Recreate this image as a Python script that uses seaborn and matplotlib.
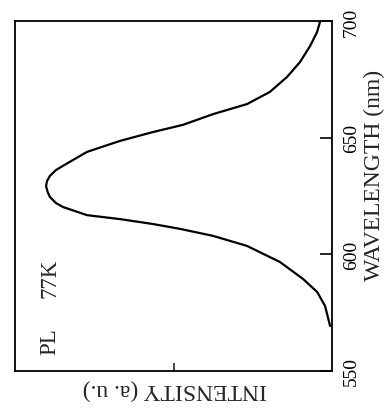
import matplotlib
matplotlib.use("Agg")
import matplotlib.pyplot as plt
import numpy as np
import pandas as pd
import seaborn as sns

# Photoluminescence spectrum at 77 K
wavelength = [569.3, 577.9, 583.9, 589.4, 596.7, 603.6, 607.9, 610.9, 613.0, 615.1,
              616.8, 620.3, 622.0, 624.6, 626.7, 629.3, 631.4, 633.6, 636.1, 637.9,
              643.9, 648.6, 652.4, 655.5, 660.1, 664.4, 669.6, 676.0, 682.4, 689.3,
              695.3, 699.6]
intensity = [0.006, 0.022, 0.047, 0.091, 0.164, 0.268, 0.375, 0.479, 0.565, 0.669,
             0.773, 0.849, 0.871, 0.890, 0.897, 0.902, 0.899, 0.890, 0.871, 0.849,
             0.773, 0.669, 0.565, 0.470, 0.375, 0.268, 0.196, 0.142, 0.101, 0.069,
             0.047, 0.038]

wl_ticks = [550, 600, 650, 700]
wl_tick_labels = ["550", "600", "650", "700"]
int_ticks = [0.5]
x_label = "INTENSITY (a. u.)"
y_label = "WAVELENGTH (nm)"
note_pl = "PL"
note_temp = "77K"

sns.set_style("white")
plt.rcParams["font.family"] = ["Liberation Serif", "DejaVu Serif"]

df = pd.DataFrame({"wavelength": wavelength, "intensity": intensity})

W, H = 385, 410
fig = plt.figure(figsize=(W / 100, H / 100), dpi=100)
ax = fig.add_axes([15 / W, (H - 372) / H, 317 / W, 350 / H])

sns.lineplot(data=df, x="intensity", y="wavelength", orient="y", sort=True,
             estimator=None, color="black", linewidth=1.6, ax=ax)

ax.set_xlim(1.0, 0.0)
ax.set_ylim(550, 700)

for s in ax.spines.values():
    s.set_visible(True)
    s.set_color("black")
    s.set_linewidth(1.3)

ax.yaxis.tick_right()
ax.yaxis.set_label_position("right")
ax.set_yticks(wl_ticks)
ax.set_yticklabels(wl_tick_labels, rotation=90, va="center", fontsize=14)
ax.tick_params(axis="y", which="both", direction="in", length=9, width=1.2,
               pad=8, left=False, right=True, colors="black")

ax.set_xticks(int_ticks)
ax.set_xticklabels([""])
ax.tick_params(axis="x", which="both", direction="in", length=6, width=1.2,
               bottom=True, top=False)

ax.set_ylabel(y_label, rotation=90, fontsize=17, ha="center", va="center")
ax.yaxis.set_label_coords((374 - 15) / 317, (372 - 175) / 350)
ax.set_xlabel(x_label, rotation=180, fontsize=17, ha="center", va="center")
ax.xaxis.set_label_coords((175 - 15) / 317, -(390 - 372) / 350)

ax.text((50 - 15) / 317, (372 - 342) / 350, note_pl, transform=ax.transAxes,
        rotation=90, ha="center", va="center", fontsize=16.5)
ax.text((50 - 15) / 317, (372 - 278) / 350, note_temp, transform=ax.transAxes,
        rotation=90, ha="center", va="center", fontsize=16.5)

fig.savefig("out.png", dpi=100, facecolor="white")
